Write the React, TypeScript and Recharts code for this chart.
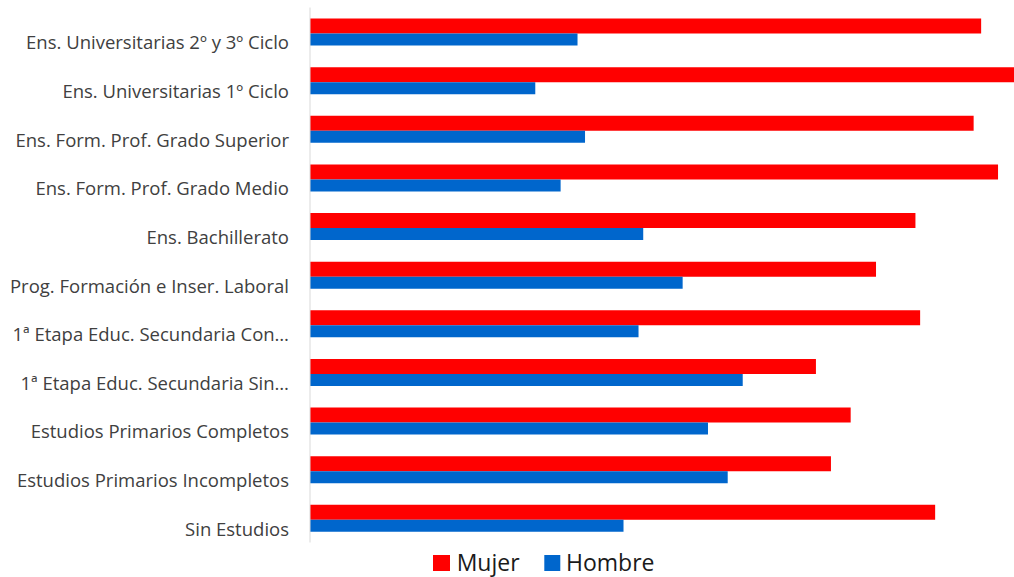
import React from 'react';
import { BarChart, Bar, XAxis, YAxis, Legend } from 'recharts';

// categories, top to bottom
const categories = [
  'Ens. Universitarias 2º y 3º Ciclo',
  'Ens. Universitarias 1º Ciclo',
  'Ens. Form. Prof. Grado Superior',
  'Ens. Form. Prof. Grado Medio',
  'Ens. Bachillerato',
  'Prog. Formación e Inser. Laboral',
  '1ª Etapa Educ. Secundaria Con…',
  '1ª Etapa Educ. Secundaria Sin…',
  'Estudios Primarios Completos',
  'Estudios Primarios Incompletos',
  'Sin Estudios',
];

// percentages
const mujer = [71.5, 76.0, 70.7, 73.3, 64.5, 60.3, 65.0, 53.9, 57.6, 55.5, 66.6];
const hombre = [28.5, 24.0, 29.3, 26.7, 35.5, 39.7, 35.0, 46.1, 42.4, 44.5, 33.4];

const data = categories.map((name, i) => ({ name, Mujer: mujer[i], Hombre: hombre[i] }));

const FONT = '"Open Sans", sans-serif';

const CategoryTick = ({ x, y, payload }: any) => (
  <text x={x} y={y + 17.5} textAnchor="end" fontSize={18.5} fill="#404040" fontFamily={FONT}>
    {payload.value}
  </text>
);

const LegendContent = () => (
  <svg width={240} height={34} style={{ overflow: 'visible' }}>
    <rect x={3} y={7} width={17} height={16} fill="#FF0000" />
    <text x={26.7} y={22.7} fontSize={23} fill="#1a1a1a" fontFamily={FONT}>Mujer</text>
    <rect x={114.3} y={7} width={16} height={16} fill="#0066CC" />
    <text x={136} y={22.7} fontSize={23} fill="#1a1a1a" fontFamily={FONT}>Hombre</text>
  </svg>
);

const App = () => {
  return (
    <div style={{ position: 'absolute', left: 0, top: 0, background: '#fff' }}>
      <BarChart
        width={1014}
        height={577}
        data={data}
        layout="vertical"
        margin={{ top: 7.5, right: 0, bottom: 0.5, left: 0 }}
        barGap={0}
      >
        <XAxis type="number" domain={[0, 75]} allowDataOverflow hide />
        <YAxis
          type="category"
          dataKey="name"
          width={310}
          axisLine={{ stroke: '#d9d9d9' }}
          tickLine={false}
          tickSize={0}
          tickMargin={21}
          interval={0}
          tick={<CategoryTick />}
        />
        <Legend
          content={<LegendContent />}
          wrapperStyle={{ position: 'absolute', left: 430, top: 548, width: 240, height: 34 }}
        />
        <Bar dataKey="Mujer" fill="#FF0000" barSize={15} isAnimationActive={false} />
        <Bar dataKey="Hombre" fill="#0066CC" barSize={12} isAnimationActive={false} />
      </BarChart>
    </div>
  );
};

export default App;
